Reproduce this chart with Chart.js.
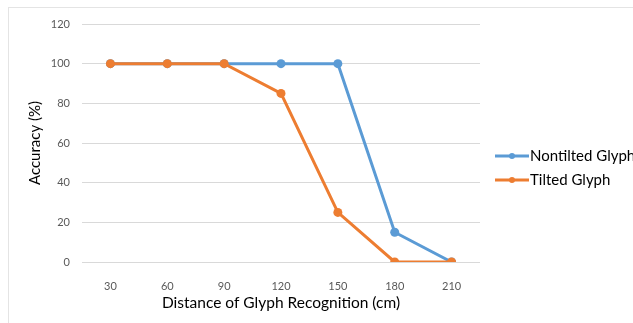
<!DOCTYPE html>
<html>
<head>
<meta charset="utf-8">
<script src="https://cdn.jsdelivr.net/npm/chart.js@4.4.0/dist/chart.umd.min.js"></script>
<style>
  html, body { margin: 0; padding: 0; background: #fff; overflow: hidden; }
  #wrap { position: relative; width: 633px; height: 323px; }
  #frame { position: absolute; left: 8px; top: 7px; width: 640px; height: 330px; border: 1px solid #e4e4e4; box-sizing: border-box; }
  canvas { position: absolute; left: 0; top: 0; }
</style>
</head>
<body>
<div id="wrap">
  <div id="frame"></div>
  <canvas id="myChart" width="633" height="323"></canvas>
</div>
<script>
// distances (cm)
const distances = ['30', '60', '90', '120', '150', '180', '210'];
// accuracy (%)
const nontilted = [100, 100, 100, 100, 100, 15, 0];
const tilted = [100, 100, 100, 85, 25, 0, 0];

const blue = '#5b9bd5';
const orange = '#ed7d31';

// legend drawn as line + dot, to the right of the plot
const sideLegend = {
    id: 'sideLegend',
    afterDraw(chart) {
        const ctx = chart.ctx;
        const sets = chart.data.datasets;
        ctx.save();
        sets.forEach((ds, i) => {
            const y = 156 + i * 24;
            ctx.strokeStyle = ds.borderColor;
            ctx.lineWidth = 3;
            ctx.beginPath();
            ctx.moveTo(495, y);
            ctx.lineTo(529, y);
            ctx.stroke();
            ctx.fillStyle = ds.borderColor;
            ctx.beginPath();
            ctx.arc(512, y, 3, 0, Math.PI * 2);
            ctx.fill();
            ctx.fillStyle = '#000';
            ctx.font = '15px Lato';
            ctx.textBaseline = 'middle';
            ctx.fillText(ds.label, 530, y);
        });
        ctx.restore();
    }
};

const ctx = document.getElementById('myChart');
const myChart = new Chart(ctx, {
    type: 'line',
    data: {
        labels: distances,
        datasets: [{
                label: 'Nontilted Glyph',
                data: nontilted,
                order: 1,
                fill: false,
                borderColor: blue,
                backgroundColor: blue,
                borderWidth: 3,
                pointRadius: 4.5,
                pointBorderWidth: 0,
                tension: 0
            },
            {
                label: 'Tilted Glyph',
                data: tilted,
                order: 0,
                fill: false,
                borderColor: orange,
                backgroundColor: orange,
                borderWidth: 3,
                pointRadius: 4.5,
                pointBorderWidth: 0,
                tension: 0
            }
        ]
    },
    options: {
        responsive: false,
        animation: false,
        layout: {
            padding: { left: 0, right: 153, top: 24, bottom: 0 }
        },
        plugins: {
            legend: { display: false },
            tooltip: { enabled: false }
        },
        scales: {
            x: {
                offset: true,
                grid: { display: false },
                border: { display: false },
                ticks: {
                    color: '#595959',
                    font: { family: 'Lato', size: 11 },
                    padding: 10
                },
                title: {
                    display: true,
                    text: 'Distance of Glyph Recognition (cm)',
                    color: '#000',
                    font: { family: 'Lato', size: 15.5 },
                    padding: { top: 0, bottom: 11 }
                },
                afterFit(scale) { scale.height = 61; }
            },
            y: {
                min: 0,
                max: 120,
                ticks: {
                    stepSize: 20,
                    color: '#595959',
                    font: { family: 'Lato', size: 11 },
                    padding: 12
                },
                grid: { color: '#d9d9d9', drawTicks: false },
                border: { display: false },
                title: {
                    display: true,
                    text: 'Accuracy (%)',
                    color: '#000',
                    font: { family: 'Lato', size: 15 },
                    padding: { top: 26, bottom: 0 }
                },
                afterFit(scale) { scale.width = 82; }
            }
        }
    },
    plugins: [sideLegend]
});
</script>
</body>
</html>
